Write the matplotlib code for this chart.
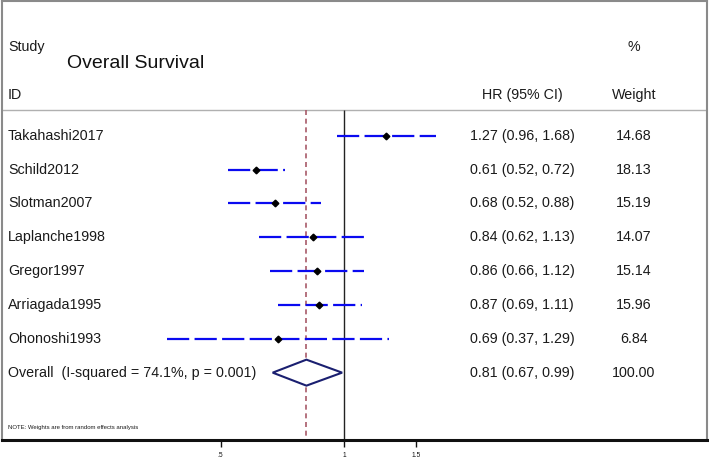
import matplotlib
matplotlib.use("Agg")
import matplotlib.pyplot as plt
import matplotlib.transforms as mtransforms
from matplotlib.patches import Polygon

plt.rcParams['font.family'] = ['Liberation Sans', 'DejaVu Sans']

studies = ['Takahashi2017', 'Schild2012', 'Slotman2007', 'Laplanche1998',
           'Gregor1997', 'Arriagada1995', 'Ohonoshi1993']
hr = [1.27, 0.61, 0.68, 0.84, 0.86, 0.87, 0.69]
lo = [0.96, 0.52, 0.52, 0.62, 0.66, 0.69, 0.37]
hi = [1.68, 0.72, 0.88, 1.13, 1.12, 1.11, 1.29]
weight = [14.68, 18.13, 15.19, 14.07, 15.14, 15.96, 6.84]

overall_label = 'Overall  (I-squared = 74.1%, p = 0.001)'
overall_hr, overall_lo, overall_hi = 0.81, 0.67, 0.99
overall_weight = 100.00

tick_vals = [0.5, 1, 1.5]
tick_labels = ['.5', '1', '1.5']

W, H = 709, 459
fig = plt.figure(figsize=(W / 100, H / 100), dpi=100)
# plot frame: x 2..707 px, y 1..440 px
ax = fig.add_axes([2 / W, (H - 440) / H, 705 / W, 439 / H])
ax.set_xscale('log')
ax.set_xlim(0.1463, 7.70)
# rows: row i at 135.7 + 33.85*i px from top
y_top = (1 - 135.7) / 33.85
y_bot = (440 - 135.7) / 33.85
ax.set_ylim(y_bot, y_top)

gray = '#8a8a8a'
for s in ['left', 'right', 'top']:
    ax.spines[s].set_color(gray)
    ax.spines[s].set_linewidth(1.5)
ax.spines['bottom'].set_color('#111111')
ax.spines['bottom'].set_linewidth(2.2)

ax.set_xticks(tick_vals)
ax.set_xticklabels(tick_labels)
ax.minorticks_off()
ax.tick_params(axis='x', length=5, width=1, pad=3.5, labelsize=4.8, colors='#111111')
ax.set_yticks([])

sep = (110 - 135.7) / 33.85
ax.axhline(sep, color='#b0b0b0', lw=1.0)

# reference lines
ax.vlines(1, sep, y_bot, color='#222222', lw=1.0)
ax.vlines(overall_hr, sep, y_bot, color='#a85a68', lw=1.2, linestyles=(0, (3, 2.2)))

rows = list(range(len(studies)))
for r, h, l, u in zip(rows, hr, lo, hi):
    ax.plot([l, u], [r, r], color='#0a0af0', lw=1.6, dashes=(10, 2.4),
            solid_capstyle='butt', dash_capstyle='butt')
    ax.plot([h], [r], marker='D', ms=3.4, color='black', zorder=5)

r_ov = len(studies)
dh = 13 / 33.85
diamond = Polygon([(overall_lo, r_ov), (overall_hr, r_ov - dh), (overall_hi, r_ov),
                   (overall_hr, r_ov + dh)], closed=True, facecolor='white',
                  edgecolor='#1a1f70', lw=1.5, zorder=4)
ax.add_patch(diamond)

trans = mtransforms.blended_transform_factory(ax.transAxes, ax.transData)
tc = '#1a1a1a'
fs = 10.3
x_lab = 6 / 705
x_hr = 520 / 705
x_w = 632 / 705

for r, name, h, l, u, w in zip(rows, studies, hr, lo, hi, weight):
    ax.text(x_lab, r, name, transform=trans, ha='left', va='center', fontsize=fs, color=tc)
    ax.text(x_hr, r, f'{h:.2f} ({l:.2f}, {u:.2f})', transform=trans, ha='center',
            va='center', fontsize=fs, color=tc)
    ax.text(x_w, r, f'{w:.2f}', transform=trans, ha='center', va='center',
            fontsize=fs, color=tc)

ax.text(x_lab, r_ov, overall_label, transform=trans, ha='left', va='center', fontsize=fs, color=tc)
ax.text(x_hr, r_ov, f'{overall_hr:.2f} ({overall_lo:.2f}, {overall_hi:.2f})', transform=trans,
        ha='center', va='center', fontsize=fs, color=tc)
ax.text(x_w, r_ov, f'{overall_weight:.2f}', transform=trans, ha='center', va='center',
        fontsize=fs, color=tc)

# header
y_h1 = (47 - 135.7) / 33.85
y_h2 = (95 - 135.7) / 33.85
y_title = (63 - 135.7) / 33.85
ax.text(x_lab, y_h1, 'Study', transform=trans, ha='left', va='center', fontsize=fs, color=tc)
ax.text(x_lab, y_h2, 'ID', transform=trans, ha='left', va='center', fontsize=fs, color=tc)
ax.text(65 / 705, y_title, 'Overall Survival', transform=trans, ha='left', va='center',
        fontsize=14, color='#111111')
ax.text(x_hr, y_h2, 'HR (95% CI)', transform=trans, ha='center', va='center', fontsize=fs, color=tc)
ax.text(x_w, y_h1, '%', transform=trans, ha='center', va='center', fontsize=fs, color=tc)
ax.text(x_w, y_h2, 'Weight', transform=trans, ha='center', va='center', fontsize=fs, color=tc)

ax.text(x_lab, (427 - 135.7) / 33.85, 'NOTE: Weights are from random effects analysis',
        transform=trans, ha='left', va='center', fontsize=4.3, color=tc)

fig.savefig('out.png', dpi=100)
